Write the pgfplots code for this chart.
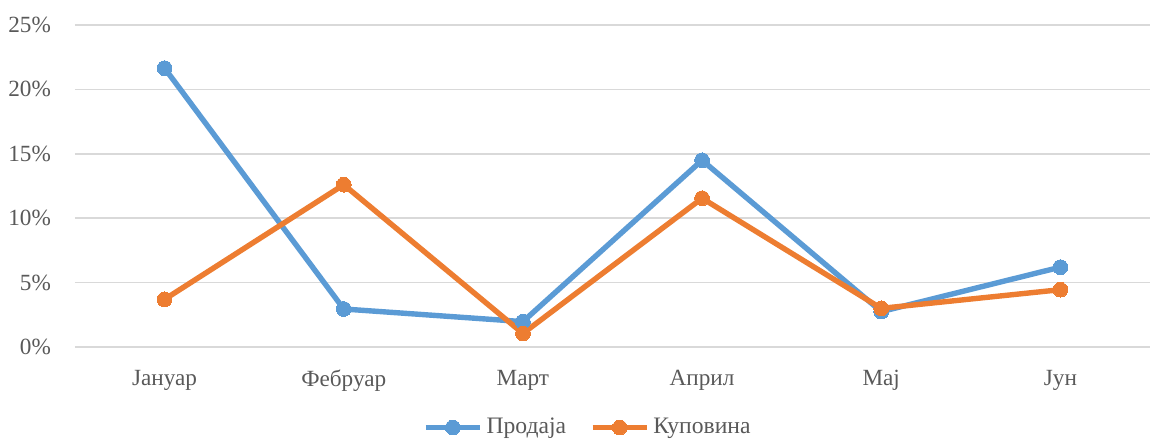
\documentclass[border=0pt]{standalone}
\usepackage{pgfplots}
\pgfplotsset{compat=1.18}
\usepackage{fontspec}
\setmainfont{Liberation Serif}
\definecolor{cblue}{HTML}{5B9BD5}
\definecolor{corange}{HTML}{ED7D31}
\definecolor{cgrid}{HTML}{D9D9D9}
\definecolor{ctext}{HTML}{595959}
\begin{document}
\fontsize{11.6}{13}\selectfont
\begin{tikzpicture}
\path[use as bounding box] (0,0) rectangle (578pt,219.5pt);
\begin{axis}[
  at={(37.5pt,46pt)}, anchor=south west,
  scale only axis, width=537.5pt, height=161pt,
  xmin=-0.5, xmax=5.5, ymin=0, ymax=25,
  xtick={0,1,2,3,4,5},
  xticklabels={Јануар,Фебруар,Март,Април,Мај,Јун},
  ytick={0,5,10,15,20,25},
  yticklabels={0\%,5\%,10\%,15\%,20\%,25\%},
  axis line style={draw=none},
  major tick length=0pt,
  ymajorgrids, grid style={cgrid, line width=0.8pt},
  tick label style={font=\fontsize{11.6}{13}\selectfont, text=ctext},
  xticklabel style={yshift=-7.5pt},
  yticklabel style={xshift=-8pt},
  /pgf/number format/assume math mode=true,
  clip=false,
  legend columns=2,
  legend style={at={(0.478,-0.250)}, anchor=center, draw=none, fill=none,
    inner sep=1pt, font=\fontsize{11.8}{13}\selectfont, text=ctext,
    /tikz/every even column/.append style={column sep=10pt}},
  legend image code/.code={\draw[mark repeat=2,mark phase=2] plot coordinates {(0pt,0pt)(13.5pt,0pt)(27pt,0pt)};},
]
\addplot[cblue, line width=2.7pt, mark=*, mark size=3.7pt, mark options={fill=cblue, draw=cblue, line width=0pt}]
  coordinates {(0,21.65) (1,2.95) (2,1.97) (3,14.5) (4,2.75) (5,6.2)};
\addlegendentry{Продаја}
\addplot[corange, line width=2.7pt, mark=*, mark size=3.7pt, mark options={fill=corange, draw=corange, line width=0pt}]
  coordinates {(0,3.7) (1,12.6) (2,1.05) (3,11.55) (4,3.0) (5,4.45)};
\addlegendentry{Куповина}
\end{axis}
\end{tikzpicture}
\end{document}
